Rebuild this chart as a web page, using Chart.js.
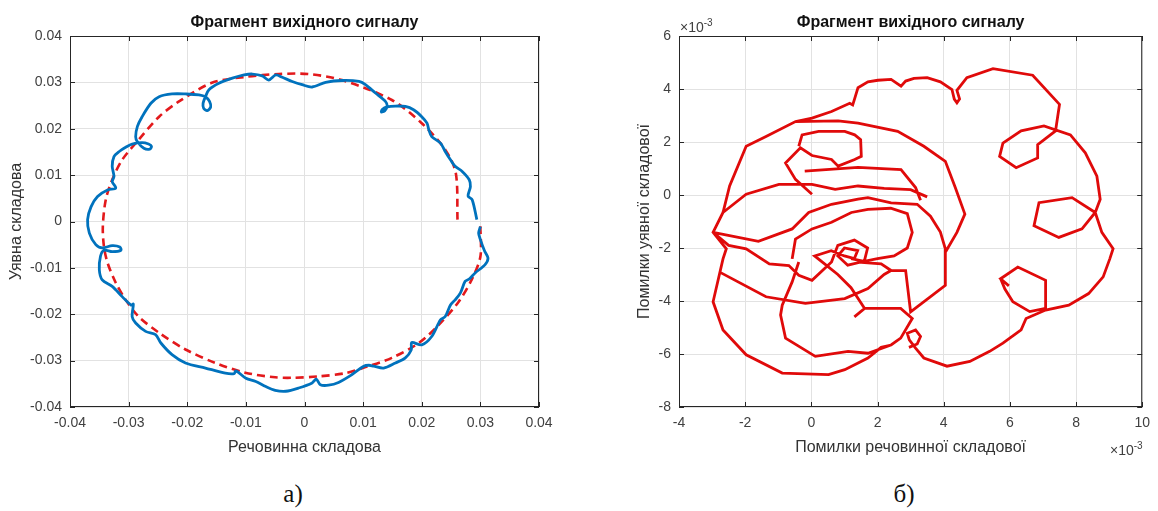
<!DOCTYPE html>
<html>
<head>
<meta charset="utf-8">
<script src="https://cdn.jsdelivr.net/npm/chart.js@4.4.1/dist/chart.umd.min.js"></script>
<style>
  body { margin: 0; background: #fff; }
  #page { position: relative; width: 1158px; height: 511px; overflow: hidden; font-family: "Liberation Sans", Arial, sans-serif; }
  canvas { position: absolute; top: 0; }
  .caption { position: absolute; top: 480px; width: 80px; text-align: center; font: 25px "Liberation Serif", "DejaVu Serif", serif; color: #111; }
  .expo { position: absolute; font-size: 14px; color: #404040; white-space: nowrap; }
  .expo sup { font-size: 10px; }
</style>
</head>
<body>
<div id="page">
  <canvas id="signalChart" width="580" height="470" style="left:0"></canvas>
  <canvas id="errorChart" width="578" height="470" style="left:580px"></canvas>
  <div class="expo" style="left:680px; top:17px">&times;10<sup>-3</sup></div>
  <div class="expo" style="left:1110px; top:440px">&times;10<sup>-3</sup></div>
  <div class="caption" style="left:253px">а)</div>
  <div class="caption" style="left:864px">б)</div>
</div>
<script>
// tick values
const reTicks = [-0.04, -0.03, -0.02, -0.01, 0, 0.01, 0.02, 0.03, 0.04];
const imTicks = [-0.04, -0.03, -0.02, -0.01, 0, 0.01, 0.02, 0.03, 0.04];
const errReTicks = [-4, -2, 0, 2, 4, 6, 8, 10];
const errImTicks = [-8, -6, -4, -2, 0, 2, 4, 6];

// output signal (blue)
const outRe = [0.0294, 0.0286, 0.0279, 0.0283, 0.0281, 0.0269, 0.0257, 0.0249, 0.0240, 0.0232, 0.0217, 0.0212, 0.0209, 0.0200, 0.0186, 0.0172, 0.0155, 0.0141,
  0.0133, 0.0131, 0.0137, 0.0141, 0.0138, 0.0121, 0.0104, 0.0093, 0.0064, 0.0036, 0.0013, -0.0004, -0.0021, -0.0038, -0.0049, -0.0061, -0.0072, -0.0089,
  -0.0103, -0.0123, -0.0146, -0.0163, -0.0169, -0.0173, -0.0172, -0.0166, -0.0160, -0.0162, -0.0168, -0.0180, -0.0203, -0.0226, -0.0248, -0.0262, -0.0277,
  -0.0285, -0.0288, -0.0285, -0.0274, -0.0264, -0.0261, -0.0266, -0.0277, -0.0294, -0.0305, -0.0316, -0.0325, -0.0328, -0.0325, -0.0328, -0.0322, -0.0336,
  -0.0353, -0.0364, -0.0370, -0.0367, -0.0356, -0.0345, -0.0328, -0.0315, -0.0313, -0.0328, -0.0342, -0.0348, -0.0350, -0.0345, -0.0328, -0.0311, -0.0296,
  -0.0292, -0.0294, -0.0288, -0.0271, -0.0254, -0.0245, -0.0226, -0.0203, -0.0169, -0.0135, -0.0120, -0.0117, -0.0100, -0.0083, -0.0066, -0.0050, -0.0032,
  -0.0010, 0.0013, 0.0020, 0.0027, 0.0041, 0.0058, 0.0081, 0.0101, 0.0110, 0.0118, 0.0135, 0.0155, 0.0172, 0.0182, 0.0183, 0.0200, 0.0217, 0.0232, 0.0240,
  0.0249, 0.0257, 0.0266, 0.0274, 0.0281, 0.0291, 0.0308, 0.0313, 0.0307, 0.0300, 0.0297, 0.0300];
const outIm = [0.0004, 0.0047, 0.0055, 0.0075, 0.0090, 0.0108, 0.0119, 0.0133, 0.0151, 0.0169, 0.0183, 0.0198, 0.0212, 0.0226, 0.0241, 0.0248, 0.0249, 0.0247,
  0.0242, 0.0236, 0.0239, 0.0249, 0.0259, 0.0277, 0.0295, 0.0302, 0.0304, 0.0300, 0.0290, 0.0295, 0.0302, 0.0311, 0.0316, 0.0305, 0.0314, 0.0318,
  0.0316, 0.0309, 0.0298, 0.0284, 0.0269, 0.0255, 0.0244, 0.0239, 0.0247, 0.0259, 0.0268, 0.0273, 0.0275, 0.0275, 0.0269, 0.0255, 0.0226,
  0.0205, 0.0183, 0.0172, 0.0158, 0.0156, 0.0162, 0.0167, 0.0170, 0.0167, 0.0160, 0.0151, 0.0140, 0.0119, 0.0097, 0.0086, 0.0072, 0.0068,
  0.0054, 0.0032, 0.0004, -0.0025, -0.0050, -0.0057, -0.0052, -0.0055, -0.0062, -0.0065, -0.0062, -0.0075, -0.0104, -0.0126, -0.0140, -0.0162, -0.0180,
  -0.0178, -0.0205, -0.0219, -0.0237, -0.0244, -0.0262, -0.0287, -0.0305, -0.0316, -0.0327, -0.0328, -0.0322, -0.0338, -0.0345, -0.0356, -0.0364, -0.0366,
  -0.0359, -0.0348, -0.0340, -0.0352, -0.0353, -0.0347, -0.0330, -0.0312, -0.0310, -0.0312, -0.0316, -0.0305, -0.0294, -0.0277, -0.0261, -0.0266, -0.0248, -0.0212, -0.0205,
  -0.0180, -0.0169, -0.0154, -0.0129, -0.0124, -0.0111, -0.0093, -0.0079, -0.0063, -0.0039, -0.0025, -0.0011];

// reference circle (red dashed)
const refRe = [0.0300, 0.0300, 0.0285, 0.0263, 0.0229, 0.0195, 0.0149, 0.0104, 0.0070, 0.0024, -0.0021, -0.0050, -0.0101, -0.0152, -0.0203, -0.0248,
  -0.0283, -0.0305, -0.0322, -0.0336, -0.0342, -0.0344, -0.0339, -0.0328, -0.0311, -0.0283, -0.0248, -0.0214, -0.0158, -0.0100, -0.0044, 0.0006,
  0.0064, 0.0149, 0.0200, 0.0240, 0.0258, 0.0261];
const refIm = [-0.0010, -0.0076, -0.0126, -0.0173, -0.0223, -0.0262, -0.0294, -0.0314, -0.0327, -0.0334, -0.0337, -0.0336, -0.0326, -0.0305, -0.0276, -0.0240,
  -0.0205, -0.0169, -0.0132, -0.0089, -0.0055, -0.0011, 0.0047, 0.0090, 0.0133, 0.0176, 0.0226, 0.0259, 0.0299, 0.0312, 0.0318, 0.0318,
  0.0305, 0.0262, 0.0212, 0.0155, 0.0105, 0.0004];

// error trajectory, x10^-3 (null breaks the stroke)
const errRe = [
  -0.48, 0.02, 0.61, 1.16, 1.25, 1.30, 1.41, 1.71, 2.01, 2.41, 2.71, 2.85, 3.10, 3.50, 3.90, 4.25, 4.32, 4.40, 4.48, 4.40, 4.70, 5.49, 6.69, 7.50, 7.38,
  6.84, 6.84, 6.19, 5.69, 5.79, 6.34, 7.03, 7.83, 8.28, 8.63, 8.73, 8.58, 8.18, 7.48, 6.73, 6.88, 7.88, 8.58, 8.78, 9.12, 9.02, 8.82, 8.38, 7.78, 7.08,
  6.49, 6.34, 5.79, 5.39, 4.79, 4.10, 3.40, 3.15, 2.96, 2.90, 3.15, 3.30, 3.20, 2.95, null,
  5.97, 5.72, 6.24, 7.08, 7.08, 6.60, 6.09, 5.85, 5.72, null,
  4.05, 4.40, 4.64, 4.35, 4.05, 3.40, 2.61, 1.41, 0.81, -0.48, -1.37, -1.97, -2.47, -2.67, -2.97, -2.57, -2.67, -2.97, -2.67, -1.97, -0.88, 0.52, 1.01, 1.71,
  2.11, 2.41, 2.70, 3.05, 2.70, 1.61, 1.30, null,
  -2.97, -2.50, -1.97, -1.27, -0.68, -0.38, 0.02, 0.61, 0.80, 1.30, 1.70, 1.60, 1.20, null,
  -2.77, -1.37, -0.18, 1.01, 1.71, 2.20, 2.41, null,
  -0.38, -0.58, -0.88, -0.93, -0.78, 0.12, 1.11, 1.71, 2.41, null,
  1.41, 2.11, 2.41, 2.85, 3.00, 4.05, 4.05, null,
  3.50, 3.00, 2.20, 1.41, 0.72, 0.02, -0.98, -1.97, -2.67, null,
  -0.58, -0.48, 0.02, 0.61, 1.21, 1.71, 2.40, 2.90, 3.05, 2.90, 2.50, 2.00, 1.60, 1.10, 0.80, 1.00, 1.40, 1.30, 1.00, 0.60, 0.10, 0.80, 1.20, 1.61, null,
  -2.97, -1.60, -0.58, -0.08, 0.61, 1.41, 1.71, 2.41, 3.20, 3.60, 3.90, 4.05, null,
  -0.20, 1.41, 2.71, 3.15, 3.30, null,
  -0.38, -0.28, 0.22, 1.01, 1.31, 1.49, 1.51, 1.31, 0.81, 0.61, 0.02, -0.33, -0.78, -0.48, 0.02];
const errIm = [
  2.77, 2.90, 3.15, 3.46, 3.40, 3.60, 4.05, 4.27, 4.33, 4.36, 4.11, 4.30, 4.40, 4.43, 4.27, 3.98, 3.62, 3.48, 3.62, 3.95, 4.43, 4.77, 4.52, 3.42, 2.42,
  1.90, 1.40, 1.03, 1.46, 1.96, 2.42, 2.61, 2.27, 1.59, 0.71, -0.16, -0.66, -1.28, -1.60, -1.16, -0.29, -0.10, -0.66, -1.41, -2.03, -2.41, -3.09, -3.72, -4.16, -4.34,
  -4.66, -5.09, -5.59, -5.90, -6.28, -6.46, -6.15, -5.78, -5.47, -5.22, -5.09, -5.34, -5.62, -5.75, null,
  -3.43, -3.16, -2.72, -3.22, -4.28, -4.40, -4.03, -3.55, -3.16, null,
  -2.16, -1.41, -0.72, 0.28, 1.27, 1.84, 2.40, 2.71, 2.80, 2.77, 2.21, 1.84, 0.34, -0.66, -1.41, -2.03, -2.41, -4.03, -5.09, -6.03, -6.72, -6.78, -6.59, -6.15,
  -5.75, -5.66, -5.40, -4.66, -4.28, -4.28, -4.60, null,
  -1.41, -1.90, -2.03, -2.60, -2.66, -3.03, -3.22, -2.53, -1.90, -1.70, -2.00, -2.50, -2.40, null,
  -2.91, -3.84, -4.09, -3.91, -3.53, -3.00, -2.85, null,
  -2.53, -3.28, -4.16, -4.53, -5.40, -6.09, -5.90, -5.97, -5.66, null,
  -2.53, -2.60, -2.85, -2.85, -4.41, -3.41, -2.03, null,
  -0.07, 0.20, 0.25, 0.34, 0.21, 0.40, 0.40, 0.03, -0.66, null,
  -2.41, -1.66, -1.28, -1.03, -0.66, -0.54, -0.50, -0.70, -1.41, -2.00, -2.30, -2.40, -2.50, -2.65, -2.30, -2.00, -2.10, -2.40, -2.30, -2.10, -2.30, -3.00, -3.50, -4.28, null,
  -1.41, -1.75, -1.28, -0.66, -0.35, -0.16, -0.10, -0.30, -0.35, -0.80, -1.40, -2.03, null,
  0.90, 1.04, 0.96, 0.28, -0.20, null,
  1.84, 2.27, 2.40, 2.40, 2.27, 2.09, 1.46, 1.34, 1.09, 1.34, 1.49, 1.78, 1.21, 0.59, 0.03];

const pts = (xs, ys) => xs.map((x, i) => ({ x: x, y: ys[i] }));

const fontFamily = "'Liberation Sans', Arial, sans-serif";
const tickColor = '#404040';
const gridColor = '#e2e2e2';

// box around the plot area plus inward tick marks on all four sides
const framePlugin = {
  id: 'frame',
  afterDraw(chart) {
    const { ctx, chartArea: a, scales } = chart;
    const len = 5;
    ctx.save();
    ctx.strokeStyle = '#262626';
    ctx.lineWidth = 1;
    ctx.strokeRect(a.left + 0.5, a.top + 0.5, a.right - a.left - 1, a.bottom - a.top - 1);
    ctx.beginPath();
    scales.x.ticks.forEach(t => {
      const px = Math.round(scales.x.getPixelForValue(t.value)) + 0.5;
      ctx.moveTo(px, a.bottom); ctx.lineTo(px, a.bottom - len);
      ctx.moveTo(px, a.top); ctx.lineTo(px, a.top + len);
    });
    scales.y.ticks.forEach(t => {
      const py = Math.round(scales.y.getPixelForValue(t.value)) + 0.5;
      ctx.moveTo(a.left, py); ctx.lineTo(a.left + len, py);
      ctx.moveTo(a.right, py); ctx.lineTo(a.right - len, py);
    });
    ctx.stroke();
    ctx.restore();
  }
};

function axis(ticks, title, titlePad, size, fmt) {
  return {
    type: 'linear',
    min: ticks[0],
    max: ticks[ticks.length - 1],
    afterBuildTicks: s => { s.ticks = ticks.map(v => ({ value: v })); },
    afterFit: s => { if (s.isHorizontal()) s.height = size; else s.width = size; },
    grid: { color: gridColor, drawTicks: false },
    border: { display: false },
    ticks: { color: tickColor, font: { family: fontFamily, size: 14 }, padding: 8, callback: fmt },
    title: { display: true, text: title, color: '#333', font: { family: fontFamily, size: 16 }, padding: titlePad }
  };
}

const titleOpts = {
  display: true,
  text: 'Фрагмент вихідного сигналу',
  fullSize: false,
  color: '#111',
  font: { family: fontFamily, size: 16, weight: 'bold' },
  padding: { top: 13.4, bottom: 3.4 }
};

const fmtReal = v => String(+v.toFixed(2));
const fmtErr = v => String(v);

new Chart(document.getElementById('signalChart'), {
  type: 'scatter',
  data: {
    datasets: [{
      data: pts(outRe, outIm),
      showLine: true,
      borderColor: '#0072BD',
      borderWidth: 2.8,
      pointRadius: 0,
      tension: 0.3
    }, {
      data: pts(refRe, refIm),
      showLine: true,
      borderColor: '#e3191c',
      borderWidth: 2.6,
      borderDash: [8, 5],
      pointRadius: 0,
      tension: 0.3
    }]
  },
  options: {
    responsive: false,
    animation: false,
    layout: { padding: { top: 0, left: 0, right: 41, bottom: 0 } },
    plugins: { legend: { display: false }, tooltip: { enabled: false }, title: titleOpts },
    scales: {
      x: axis(reTicks, 'Речовинна складова', { top: 0, bottom: 12.4 }, 63, fmtReal),
      y: axis(imTicks, 'Уявна складова', { top: 7.4, bottom: 0 }, 70, fmtReal)
    }
  },
  plugins: [framePlugin]
});

new Chart(document.getElementById('errorChart'), {
  type: 'scatter',
  data: {
    datasets: [{
      data: pts(errRe, errIm),
      showLine: true,
      spanGaps: false,
      borderColor: '#e00a0a',
      borderWidth: 2.8,
      pointRadius: 0,
      tension: 0
    }]
  },
  options: {
    responsive: false,
    animation: false,
    layout: { padding: { top: 0, left: 0, right: 10, bottom: 0 } },
    plugins: { legend: { display: false }, tooltip: { enabled: false }, title: titleOpts },
    scales: {
      x: axis(errReTicks, 'Помилки речовинної складової', { top: 0, bottom: 12.4 }, 63, fmtErr),
      y: axis(errImTicks, 'Помилки уявної складової', { top: 55.4, bottom: 0 }, 99, fmtErr)
    }
  },
  plugins: [framePlugin]
});
</script>
</body>
</html>
